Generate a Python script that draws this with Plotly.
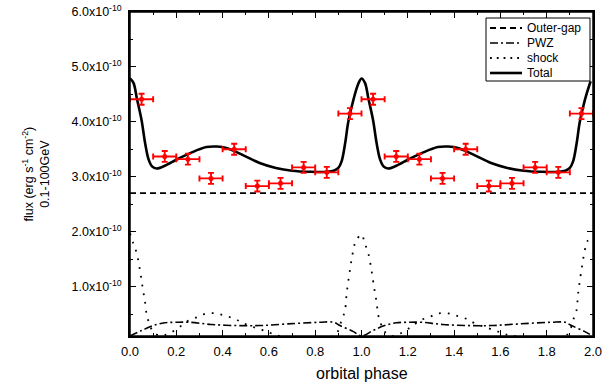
import plotly.graph_objects as go

# ---- data (flux in units of 1e-10 erg s^-1 cm^-2) ----
obs_phase = [0.05, 0.15, 0.25, 0.35, 0.45, 0.55, 0.65, 0.75, 0.85, 0.95,
             1.05, 1.15, 1.25, 1.35, 1.45, 1.55, 1.65, 1.75, 1.85, 1.95]
obs_flux = [4.41, 3.37, 3.32, 2.97, 3.50, 2.83, 2.88, 3.17, 3.08, 4.15,
            4.41, 3.37, 3.32, 2.97, 3.50, 2.83, 2.88, 3.17, 3.08, 4.15]
obs_xerr = [0.05] * 20
obs_yerr = [0.10] * 20

total_phase = [0.0, 0.015, 0.03, 0.05, 0.065, 0.08, 0.095, 0.115, 0.16, 0.2, 0.26, 0.33, 0.375,
               0.42, 0.49, 0.56, 0.63, 0.7, 0.78, 0.85, 0.88, 0.9, 0.914, 0.929, 0.943, 0.965,
               0.985, 1.0, 1.015, 1.03, 1.05, 1.065, 1.08, 1.095, 1.115, 1.16, 1.2, 1.26, 1.33,
               1.375, 1.42, 1.49, 1.56, 1.63, 1.7, 1.78, 1.85, 1.88, 1.9, 1.914, 1.929, 1.943,
               1.965, 1.985, 1.99]
total_flux = [4.79, 4.71, 4.42, 4.03, 3.62, 3.32, 3.19, 3.15, 3.22, 3.31, 3.43, 3.54, 3.55,
              3.52, 3.39, 3.25, 3.16, 3.11, 3.09, 3.09, 3.11, 3.16, 3.28, 3.60, 4.00, 4.40,
              4.68, 4.79, 4.71, 4.42, 4.03, 3.62, 3.32, 3.19, 3.15, 3.22, 3.31, 3.43, 3.54,
              3.55, 3.52, 3.39, 3.25, 3.16, 3.11, 3.09, 3.09, 3.11, 3.16, 3.28, 3.60, 4.00,
              4.40, 4.68, 4.74]

outer_phase = [0.0, 2.0]
outer_flux = [2.70, 2.70]

pwz_phase = [0.0, 0.05, 0.1, 0.15, 0.2, 0.26, 0.35, 0.46, 0.56, 0.68, 0.82, 0.88, 0.907, 0.965,
             1.0, 1.05, 1.1, 1.15, 1.2, 1.26, 1.35, 1.46, 1.56, 1.68, 1.82, 1.88, 1.907, 1.965, 1.99]
pwz_flux = [0.10, 0.20, 0.29, 0.34, 0.35, 0.35, 0.31, 0.29, 0.29, 0.32, 0.35, 0.35, 0.29, 0.18,
            0.10, 0.20, 0.29, 0.34, 0.35, 0.35, 0.31, 0.29, 0.29, 0.32, 0.35, 0.35, 0.29, 0.18, 0.12]

shock_phase = [0.0, 0.014, 0.029, 0.043, 0.055, 0.065, 0.072, 0.083, 0.1, 0.13, 0.17, 0.216,
               0.252, 0.295, 0.331, 0.374, 0.41, 0.454, 0.49, 0.57, 0.61, 0.65, 0.88, 0.9,
               0.914, 0.928, 0.936, 0.95, 0.965, 0.975, 1.0, 1.014, 1.029, 1.043, 1.055, 1.065,
               1.072, 1.083, 1.1, 1.13, 1.17, 1.216, 1.252, 1.295, 1.331, 1.374, 1.41, 1.454,
               1.49, 1.57, 1.61, 1.65, 1.88, 1.9, 1.914, 1.928, 1.936, 1.95, 1.965, 1.975, 1.99]
shock_flux = [1.97, 1.79, 1.61, 1.30, 0.97, 0.72, 0.49, 0.33, 0.18, 0.10, 0.15, 0.27,
              0.38, 0.45, 0.51, 0.51, 0.47, 0.41, 0.33, 0.21, 0.15, 0.10, 0.10, 0.20,
              0.39, 0.55, 0.88, 1.30, 1.67, 1.82, 1.95, 1.79, 1.61, 1.30, 0.97, 0.72,
              0.49, 0.33, 0.18, 0.10, 0.15, 0.27, 0.38, 0.45, 0.51, 0.51, 0.47, 0.41,
              0.33, 0.21, 0.15, 0.10, 0.10, 0.20, 0.39, 0.55, 0.88, 1.30, 1.67, 1.82, 1.90]

y_tickvals = [1, 2, 3, 4, 5, 6]
y_ticktext = ["1.0x10<sup>-10</sup>", "2.0x10<sup>-10</sup>", "3.0x10<sup>-10</sup>",
              "4.0x10<sup>-10</sup>", "5.0x10<sup>-10</sup>", "6.0x10<sup>-10</sup>"]
y_minor_vals = [0.5, 1.5, 2.5, 3.5, 4.5, 5.5]
x_tickvals = [0.0, 0.2, 0.4, 0.6, 0.8, 1.0, 1.2, 1.4, 1.6, 1.8, 2.0]
x_ticktext = ["0.0", "0.2", "0.4", "0.6", "0.8", "1.0", "1.2", "1.4", "1.6", "1.8", "2.0"]

legend_names = ["Outer-gap", "PWZ", "shock", "Total"]
legend_dashes = ["6px,4px", "8px,3px,2px,3px", "1.8px,5px", "solid"]
legend_widths = [1.8, 1.6, 1.8, 2.6]

x_title = "orbital phase"
y_title = "flux (erg s<sup>-1</sup> cm<sup>-2</sup>)<br>0.1-100GeV"

FONT = "Liberation Sans, Arial, sans-serif"
W, H = 602, 385
L, R, T, B = 130, 9, 12, 49
PW, PH = W - L - R, H - T - B
X_RANGE = [0, 2]
Y_RANGE = [0.1, 6.0]


def px_x(p):  # page pixel -> paper coordinate
    return (p - L) / PW


def px_y(p):
    return (H - B - p) / PH


fig = go.Figure()
fig.add_trace(go.Scatter(x=outer_phase, y=outer_flux, mode="lines", name=legend_names[0],
                         line=dict(color="black", width=legend_widths[0], dash=legend_dashes[0])))
fig.add_trace(go.Scatter(x=pwz_phase, y=pwz_flux, mode="lines", name=legend_names[1],
                         line=dict(color="black", width=legend_widths[1], dash=legend_dashes[1],
                                   shape="spline")))
fig.add_trace(go.Scatter(x=shock_phase, y=shock_flux, mode="lines", name=legend_names[2],
                         line=dict(color="black", width=legend_widths[2], dash="1.8px,7px",
                                   shape="spline")))
fig.add_trace(go.Scatter(x=total_phase, y=total_flux, mode="lines", name=legend_names[3],
                         line=dict(color="black", width=legend_widths[3], shape="spline")))
fig.add_trace(go.Scatter(x=obs_phase, y=obs_flux, mode="markers", name="data",
                         marker=dict(color="red", size=5),
                         error_x=dict(type="data", array=obs_xerr, color="red", thickness=1.9, width=3),
                         error_y=dict(type="data", array=obs_yerr, color="red", thickness=1.9, width=3)))
# empty trace that activates the top / right frame axes
fig.add_trace(go.Scatter(x=[None], y=[None], xaxis="x2", yaxis="y2", mode="lines",
                         showlegend=False, hoverinfo="skip"))

# plot frame + compact legend box (matches the reference layout)
shapes = [dict(type="rect", xref="paper", yref="paper", x0=0, x1=1, y0=0, y1=1,
               line=dict(color="black", width=1.5), fillcolor="rgba(0,0,0,0)", layer="above"),
          dict(type="rect", xref="paper", yref="paper",
               x0=px_x(486), x1=px_x(590), y0=px_y(81), y1=px_y(18),
               line=dict(color="black", width=1), fillcolor="white", layer="above")]
annotations = []
for i, name in enumerate(legend_names):
    yy = 28 + 15 * i
    shapes.append(dict(type="line", xref="paper", yref="paper",
                       x0=px_x(490), x1=px_x(522), y0=px_y(yy), y1=px_y(yy),
                       line=dict(color="black", width=legend_widths[i], dash=legend_dashes[i]),
                       layer="above"))
    annotations.append(dict(text=name, xref="paper", yref="paper", x=px_x(525), y=px_y(yy),
                            xanchor="left", yanchor="middle", showarrow=False,
                            font=dict(size=12, family=FONT, color="black")))

# axis titles
annotations.append(dict(text=y_title, xref="paper", yref="paper", x=px_x(35.5), y=px_y(174),
                        xanchor="center", yanchor="middle", textangle=-90, showarrow=False,
                        font=dict(size=12.5, family=FONT, color="black")))
annotations.append(dict(text=x_title, xref="paper", yref="paper", x=px_x(362), y=px_y(373.5),
                        xanchor="center", yanchor="middle", showarrow=False,
                        font=dict(size=16, family=FONT, color="black")))

tick_common = dict(showline=True, linecolor="black", linewidth=1.5, mirror=False,
                   ticks="inside", ticklen=6, tickwidth=1.3, tickcolor="black",
                   showgrid=False, zeroline=False, automargin=False)
x_minor = dict(dtick=0.1, ticks="inside", ticklen=3, tickwidth=1.3, tickcolor="black")
y_minor = dict(tickvals=y_minor_vals, ticks="inside", ticklen=3, tickwidth=1.3, tickcolor="black")

fig.update_layout(
    width=W, height=H,
    margin=dict(l=L, r=R, t=T, b=B),
    paper_bgcolor="white", plot_bgcolor="white",
    font=dict(family=FONT, color="black", size=11),
    showlegend=False,
    shapes=shapes, annotations=annotations,
    xaxis=dict(range=X_RANGE, tickvals=x_tickvals, ticktext=x_ticktext,
               ticklabeloverflow="allow", ticklabelstandoff=3, minor=x_minor,
               tickfont=dict(size=13, family=FONT), **tick_common),
    yaxis=dict(range=Y_RANGE, tickvals=y_tickvals, ticktext=y_ticktext,
               ticklabeloverflow="allow", ticklabelstandoff=4, minor=y_minor,
               tickfont=dict(size=12.5, family=FONT), **tick_common),
    xaxis2=dict(range=X_RANGE, tickvals=x_tickvals, showticklabels=False, minor=x_minor,
                overlaying="x", side="top", anchor="y2", **tick_common),
    yaxis2=dict(range=Y_RANGE, tickvals=y_tickvals, showticklabels=False, minor=y_minor,
                overlaying="y", side="right", anchor="x2", **tick_common),
)

# remove the default 8px page margin so the figure fills the 602x385 window exactly
fig.write_html("out.html", config={"displayModeBar": False},
               post_script="document.body.style.margin='0';document.body.style.overflow='hidden';")
